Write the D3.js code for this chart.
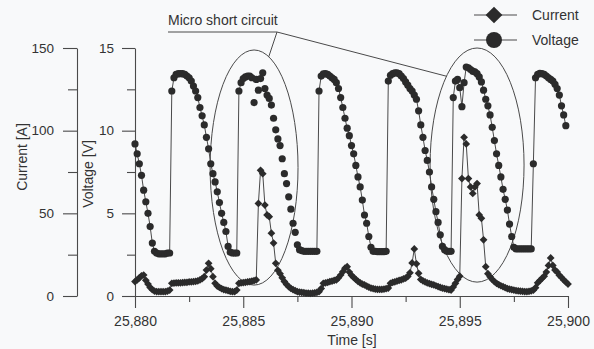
<!DOCTYPE html>
<html>
<head>
<meta charset="utf-8">
<script src="https://cdn.jsdelivr.net/npm/d3@7"></script>
<style>
  html, body { margin: 0; padding: 0; background: #f8f9fa; }
  svg { display: block; font-family: "Liberation Sans", Arial, Helvetica, sans-serif; }
</style>
</head>
<body>
<svg id="chart" width="594" height="349"></svg>
<script>
// Welding record: current and arc voltage sampled every 0.1 s
const sampleStart = 25880;   // s
const sampleStep = 0.1;      // s

// Arc voltage [V], one row per second
const voltage = [
  9.2, 8.6, 8.0, 7.3, 6.4, 5.7, 5.0, 4.2, 3.2, 2.7,
  2.6, 2.55, 2.55, 2.55, 2.55, 2.6, 2.6, 12.4, 13.2, 13.4,
  13.45, 13.45, 13.45, 13.4, 13.3, 13.2, 13.0, 12.7, 12.4, 12.0,
  11.4, 10.9, 10.35, 9.6, 8.9, 8.0, 7.4, 6.9, 6.3, 5.65,
  5.0, 4.45, 3.9, 3.0, 2.65, 2.6, 2.6, 2.6, 12.4, 12.9,
  13.15, 13.25, 13.3, 13.3, 13.2, 11.7, 13.1, 12.45, 13.15, 13.5,
  12.55, 12.15, 11.95, 11.55, 10.75, 10.05, 9.5, 9.1, 8.3, 7.4,
  6.8, 6.0, 5.25, 4.4, 3.85, 3.1, 2.8, 2.75, 2.7, 2.7,
  2.7, 2.7, 2.7, 2.7, 2.7, 12.4, 13.3, 13.43, 13.45, 13.4,
  13.3, 13.2, 13.1, 12.9, 12.55, 12.0, 11.4, 10.75, 10.15, 9.7,
  9.1, 8.6, 7.9, 7.2, 6.6, 5.8, 4.9, 4.4, 3.6, 2.95,
  2.7, 2.7, 2.68, 2.68, 2.68, 2.68, 2.7, 13.0, 13.35, 13.45,
  13.5, 13.5, 13.45, 13.3, 13.15, 12.95, 12.75, 12.55, 12.4, 12.15,
  11.9, 11.2, 10.35, 9.6, 8.8, 8.2, 7.5, 6.6, 5.85, 5.1,
  4.45, 3.7, 3.0, 2.8, 2.7, 2.7, 2.7, 12.0, 13.0, 13.1,
  12.6, 11.45, 12.9, 13.85, 13.8, 13.7, 13.6, 13.55, 13.45, 13.25,
  12.95, 12.45, 11.9, 11.5, 10.95, 10.2, 9.4, 8.6, 7.9, 7.2,
  6.45, 5.85, 5.2, 4.35, 3.6, 2.95, 2.85, 2.85, 2.85, 2.85,
  2.85, 2.85, 2.85, 2.85, 8.0, 13.2, 13.4, 13.47, 13.45, 13.4,
  13.3, 13.2, 13.1, 13.0, 12.8, 12.55, 12.15, 11.5, 10.95, 10.3
];

// Welding current [A], one row per second
const current = [
  8.7, 9.7, 11.0, 12.2, 12.7, 9.5, 7.2, 5.2, 3.8, 3.0,
  2.7, 2.6, 2.6, 2.6, 2.6, 3.0, 3.6, 7.7, 7.8, 7.9,
  8.0, 8.0, 8.1, 8.2, 8.3, 8.5, 8.6, 8.7, 8.9, 9.2,
  9.7, 10.5, 11.7, 15.7, 19.8, 16.5, 11.7, 7.7, 6.0, 5.2,
  4.4, 3.9, 3.6, 3.2, 2.8, 2.6, 2.6, 3.6, 7.7, 7.9,
  8.1, 8.3, 8.5, 8.7, 9.0, 9.3, 9.7, 56, 76, 74,
  55, 49, 48, 38, 32, 19.8, 15.5, 13.5, 11.0, 8.7,
  7.0, 5.6, 4.6, 3.8, 3.2, 2.6, 2.4, 2.2, 2.0, 1.8,
  1.7, 1.6, 1.7, 1.9, 2.2, 2.6, 4.5, 7.7, 8.0, 8.3,
  8.7, 9.0, 9.4, 9.7, 11.0, 12.7, 14.7, 16.8, 17.7, 14.5,
  12.5, 11.2, 10.0, 8.9, 8.0, 7.2, 6.7, 6.0, 5.3, 4.8,
  4.5, 4.2, 4.0, 4.0, 4.0, 4.2, 4.4, 4.8, 7.7, 8.2,
  8.6, 9.0, 9.4, 9.8, 10.3, 10.8, 11.8, 14.0, 20.0, 28.5,
  19.5, 13.7, 10.0, 9.2, 8.5, 7.9, 7.5, 7.1, 6.7, 6.2,
  5.7, 5.2, 4.8, 4.5, 4.1, 3.8, 3.6, 5.5, 7.7, 10.0,
  12.0, 71, 96, 92, 71, 66, 62, 66, 68, 49,
  47, 34, 17.7, 13.5, 11.7, 10.0, 8.7, 7.7, 6.9, 6.2,
  5.6, 5.0, 4.5, 4.1, 3.8, 3.6, 3.3, 3.1, 2.9, 2.8,
  2.7, 2.6, 2.8, 3.1, 3.5, 5.0, 8.0, 9.3, 10.7, 12.0,
  14.5, 18.5, 23.0, 18.5, 15.7, 14.5, 12.5, 11.2, 9.7, 8.5,
  7.2
];

// Stretch of the voltage record plotted as points only (trace not joined)
const voltageUnjoined = [25885.45, 25887.45];

// Axis ticks
const timeTicks = [25880, 25885, 25890, 25895, 25900];
const timeMinorTicks = [25882.5, 25887.5, 25892.5, 25897.5];
const currentTicks = [0, 50, 100, 150];
const currentMinorTicks = [25, 75, 125];
const voltageTicks = [0, 5, 10, 15];
const voltageMinorTicks = [2.5, 7.5, 12.5];

// Highlighted micro short circuit events: [centre time, centre voltage, half-width s, half-height V]
const shortEvents = [
  [25885.50, 7.77, 2.03, 7.11],
  [25895.80, 7.92, 2.17, 7.08]
];
const annotationText = "Micro short circuit";

const ink = "#2b2b2b";
const lineInk = "#4a4a4a";
const textInk = "#333";

const svg = d3.select("#chart");

const x = d3.scaleLinear().domain([25880, 25900]).range([135, 568]);
const yI = d3.scaleLinear().domain([0, 150]).range([296, 48]);
const yV = d3.scaleLinear().domain([0, 15]).range([296, 48]);

const tOf = i => sampleStart + i * sampleStep;
const vData = voltage.map((v, i) => ({ t: tOf(i), v }));
const iData = current.map((v, i) => ({ t: tOf(i), v }));

function styleAxis(g, size) {
  g.selectAll(".domain").attr("stroke", lineInk).attr("stroke-width", 1.1);
  g.selectAll(".tick line").attr("stroke", lineInk).attr("stroke-width", 1.1);
  g.selectAll(".tick text").attr("fill", textInk).style("font-size", size + "px");
}

// Current axis
const gI = svg.append("g").attr("transform", "translate(77,0)")
  .call(d3.axisLeft(yI).tickValues(currentTicks).tickSize(14).tickSizeOuter(0).tickPadding(9));
styleAxis(gI, 13.5);
const gIm = svg.append("g").attr("transform", "translate(77,0)")
  .call(d3.axisLeft(yI).tickValues(currentMinorTicks).tickSize(9).tickFormat(""));
gIm.select(".domain").remove();
styleAxis(gIm, 13.5);

// Voltage axis
const gV = svg.append("g").attr("transform", "translate(135,0)")
  .call(d3.axisLeft(yV).tickValues(voltageTicks).tickSize(13).tickSizeOuter(0).tickPadding(8));
styleAxis(gV, 13.5);
const gVm = svg.append("g").attr("transform", "translate(135,0)")
  .call(d3.axisLeft(yV).tickValues(voltageMinorTicks).tickSize(8).tickFormat(""));
gVm.select(".domain").remove();
styleAxis(gVm, 13.5);

// Time axis
const gX = svg.append("g").attr("transform", "translate(0,296)")
  .call(d3.axisBottom(x).tickValues(timeTicks).tickSize(12).tickSizeOuter(0)
    .tickPadding(8).tickFormat(d3.format(",")));
styleAxis(gX, 14);
const gXm = svg.append("g").attr("transform", "translate(0,296)")
  .call(d3.axisBottom(x).tickValues(timeMinorTicks).tickSize(6).tickFormat(""));
gXm.select(".domain").remove();
styleAxis(gXm, 14);

// Axis titles
svg.append("text").attr("transform", "translate(27,157) rotate(-90)")
  .attr("text-anchor", "middle").attr("fill", textInk).style("font-size", "14px")
  .text("Current [A]");
svg.append("text").attr("transform", "translate(93,174) rotate(-90)")
  .attr("text-anchor", "middle").attr("fill", textInk).style("font-size", "14px")
  .text("Voltage [V]");
svg.append("text").attr("x", 352).attr("y", 345)
  .attr("text-anchor", "middle").attr("fill", textInk).style("font-size", "14px")
  .text("Time [s]");

// Ellipses around the short circuit events
const ellipses = shortEvents.map(([tc, vc, dt, dv]) => ({
  cx: x(tc), cy: yV(vc), rx: x(tc + dt) - x(tc), ry: yV(vc) - yV(vc + dv)
}));
svg.append("g").selectAll("ellipse").data(ellipses).join("ellipse")
  .attr("cx", d => d.cx).attr("cy", d => d.cy)
  .attr("rx", d => d.rx).attr("ry", d => d.ry)
  .attr("fill", "none").attr("stroke", lineInk).attr("stroke-width", 1);

// Annotation with leaders to both ellipses
const ann = svg.append("g");
ann.append("text").attr("x", 168).attr("y", 25).attr("fill", textInk)
  .style("font-size", "14px").text(annotationText);
const elbow = [277, 32];
ann.append("line").attr("x1", 168).attr("y1", 32).attr("x2", elbow[0]).attr("y2", elbow[1])
  .attr("stroke", lineInk).attr("stroke-width", 1);
// leader end points on each ellipse outline (angle on the outline, radians)
const leaderAngles = [-1.23, -2.28];
ellipses.forEach((e, k) => {
  const a = leaderAngles[k];
  ann.append("line")
    .attr("x1", elbow[0]).attr("y1", elbow[1])
    .attr("x2", e.cx + e.rx * Math.cos(a)).attr("y2", e.cy + e.ry * Math.sin(a))
    .attr("stroke", lineInk).attr("stroke-width", 1);
});

// Traces
const joined = d => !(d.t > voltageUnjoined[0] && d.t < voltageUnjoined[1]);
svg.append("path").datum(vData)
  .attr("d", d3.line().defined(joined).x(d => x(d.t)).y(d => yV(d.v)))
  .attr("fill", "none").attr("stroke", lineInk).attr("stroke-width", 1);
svg.append("path").datum(iData)
  .attr("d", d3.line().x(d => x(d.t)).y(d => yI(d.v)))
  .attr("fill", "none").attr("stroke", lineInk).attr("stroke-width", 1);

// Markers
const diamond = d3.symbol().type(d3.symbolSquare).size(30);
svg.append("g").selectAll("path").data(iData).join("path")
  .attr("d", diamond)
  .attr("transform", d => `translate(${x(d.t)},${yI(d.v)}) rotate(45)`)
  .attr("fill", ink);
svg.append("g").selectAll("circle").data(vData).join("circle")
  .attr("cx", d => x(d.t)).attr("cy", d => yV(d.v)).attr("r", 3.6)
  .attr("fill", ink);

// Legend
const legend = svg.append("g");
const legendRows = [
  { name: "Current", y: 15, mark: "diamond" },
  { name: "Voltage", y: 40, mark: "circle" }
];
legendRows.forEach(r => {
  legend.append("line").attr("x1", 474).attr("x2", 517).attr("y1", r.y).attr("y2", r.y)
    .attr("stroke", lineInk).attr("stroke-width", 1.2);
  if (r.mark === "diamond") {
    legend.append("path").attr("d", d3.symbol().type(d3.symbolSquare).size(140))
      .attr("transform", `translate(494,${r.y}) rotate(45)`).attr("fill", ink);
  } else {
    legend.append("circle").attr("cx", 494).attr("cy", r.y).attr("r", 8).attr("fill", ink);
  }
  legend.append("text").attr("x", 532).attr("y", r.y).attr("dy", "0.36em")
    .attr("fill", textInk).style("font-size", "14px").text(r.name);
});
</script>
</body>
</html>
